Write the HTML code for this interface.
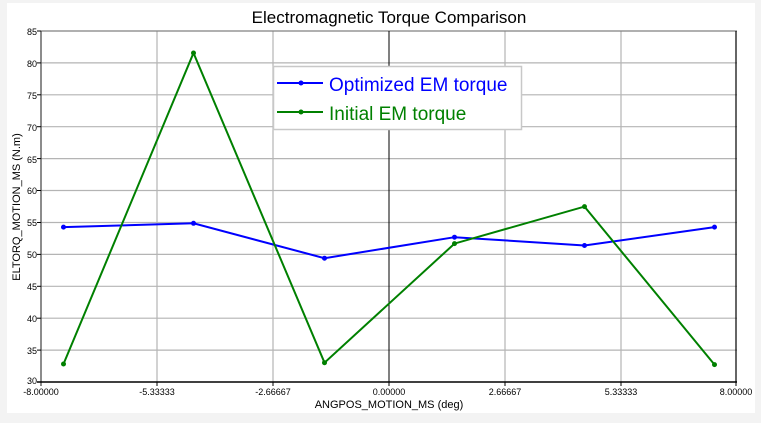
<!DOCTYPE html>
<html><head><meta charset="utf-8"><style>
html,body{margin:0;padding:0;background:#f3f3f3;}
svg{display:block;font-family:"Liberation Sans",sans-serif;}
</style></head><body>
<svg width="761" height="423" xmlns="http://www.w3.org/2000/svg">
<rect x="0" y="0" width="761" height="423" fill="#f3f3f3"/>
<rect x="7" y="3" width="748" height="410" fill="#fff"/>
<text x="389" y="23" font-size="17" text-anchor="middle" fill="#000">Electromagnetic Torque Comparison</text>
<g stroke="#b4b4b4" stroke-width="1.2">
<line x1="157" y1="31" x2="157" y2="382"/><line x1="273" y1="31" x2="273" y2="382"/>
<line x1="505" y1="31" x2="505" y2="382"/><line x1="621" y1="31" x2="621" y2="382"/>
<line x1="41" y1="62.9" x2="737" y2="62.9"/><line x1="41" y1="94.8" x2="737" y2="94.8"/>
<line x1="41" y1="126.7" x2="737" y2="126.7"/><line x1="41" y1="158.6" x2="737" y2="158.6"/>
<line x1="41" y1="190.5" x2="737" y2="190.5"/><line x1="41" y1="222.5" x2="737" y2="222.5"/>
<line x1="41" y1="254.4" x2="737" y2="254.4"/><line x1="41" y1="286.3" x2="737" y2="286.3"/>
<line x1="41" y1="318.2" x2="737" y2="318.2"/><line x1="41" y1="350.1" x2="737" y2="350.1"/>
</g>
<line x1="41" y1="31" x2="737" y2="31" stroke="#808080" stroke-width="1.2"/>
<line x1="736" y1="31" x2="736" y2="382" stroke="#000" stroke-width="1.2"/>
<line x1="389" y1="31" x2="389" y2="382" stroke="#000" stroke-width="1"/>
<line x1="41" y1="31" x2="41" y2="386" stroke="#404040" stroke-width="1.2"/>
<line x1="37" y1="382" x2="737" y2="382" stroke="#000" stroke-width="1.5"/>
<g stroke="#000" stroke-width="1">
<line x1="37" y1="31" x2="41" y2="31"/><line x1="37" y1="62.9" x2="41" y2="62.9"/><line x1="37" y1="94.8" x2="41" y2="94.8"/><line x1="37" y1="126.7" x2="41" y2="126.7"/><line x1="37" y1="158.6" x2="41" y2="158.6"/><line x1="37" y1="190.5" x2="41" y2="190.5"/><line x1="37" y1="222.5" x2="41" y2="222.5"/><line x1="37" y1="254.4" x2="41" y2="254.4"/><line x1="37" y1="286.3" x2="41" y2="286.3"/><line x1="37" y1="318.2" x2="41" y2="318.2"/><line x1="37" y1="350.1" x2="41" y2="350.1"/>
<line x1="157" y1="382" x2="157" y2="386"/><line x1="273" y1="382" x2="273" y2="386"/><line x1="389" y1="382" x2="389" y2="386"/><line x1="505" y1="382" x2="505" y2="386"/><line x1="621" y1="382" x2="621" y2="386"/><line x1="736" y1="382" x2="736" y2="386"/>
</g>
<g font-size="9" text-anchor="end" fill="#000">
<text x="37" y="35">85</text><text x="37" y="67">80</text><text x="37" y="99">75</text><text x="37" y="131">70</text><text x="37" y="163">65</text><text x="37" y="194">60</text><text x="37" y="226">55</text><text x="37" y="258">50</text><text x="37" y="290">45</text><text x="37" y="322">40</text><text x="37" y="354">35</text><text x="37" y="384">30</text>
</g>
<g font-size="9" text-anchor="middle" fill="#000">
<text x="41" y="395">-8.00000</text><text x="157" y="395">-5.33333</text><text x="273" y="395">-2.66667</text><text x="389" y="395">0.00000</text><text x="505" y="395">2.66667</text><text x="621" y="395">5.33333</text><text x="736" y="395">8.00000</text>
</g>
<text x="389" y="408" font-size="11" text-anchor="middle">ANGPOS_MOTION_MS (deg)</text>
<text transform="translate(20,207) rotate(-90)" font-size="11" text-anchor="middle">ELTORQ_MOTION_MS (N.m)</text>
<polyline fill="none" stroke="#0000ff" stroke-width="2" points="63.5,227.1 193.5,223.3 324.5,258.2 454.5,237.2 584.5,245.5 714.5,227.1"/>
<g fill="#0000ff"><circle cx="63.5" cy="227.1" r="2.5"/><circle cx="193.5" cy="223.3" r="2.5"/><circle cx="324.5" cy="258.2" r="2.5"/><circle cx="454.5" cy="237.2" r="2.5"/><circle cx="584.5" cy="245.5" r="2.5"/><circle cx="714.5" cy="227.1" r="2.5"/></g>
<polyline fill="none" stroke="#008000" stroke-width="2" points="63.5,364 193.5,53 324.5,362.7 454.5,243.6 584.5,206.6 714.5,364.6"/>
<g fill="#008000"><circle cx="63.5" cy="364" r="2.5"/><circle cx="193.5" cy="53" r="2.5"/><circle cx="324.5" cy="362.7" r="2.5"/><circle cx="454.5" cy="243.6" r="2.5"/><circle cx="584.5" cy="206.6" r="2.5"/><circle cx="714.5" cy="364.6" r="2.5"/></g>
<rect x="273.5" y="66.5" width="248" height="63" fill="#fff" stroke="#c8c8c8" stroke-width="1.5"/>
<line x1="277" y1="83" x2="323" y2="83" stroke="#0000ff" stroke-width="2"/><circle cx="301" cy="83" r="2.5" fill="#0000ff"/>
<line x1="277" y1="112" x2="323" y2="112" stroke="#008000" stroke-width="2"/><circle cx="301" cy="112" r="2.5" fill="#008000"/>
<text x="329" y="91" font-size="19" fill="#0000ff">Optimized EM torque</text>
<text x="329" y="120" font-size="19" fill="#008000">Initial EM torque</text>
</svg>
</body></html>
